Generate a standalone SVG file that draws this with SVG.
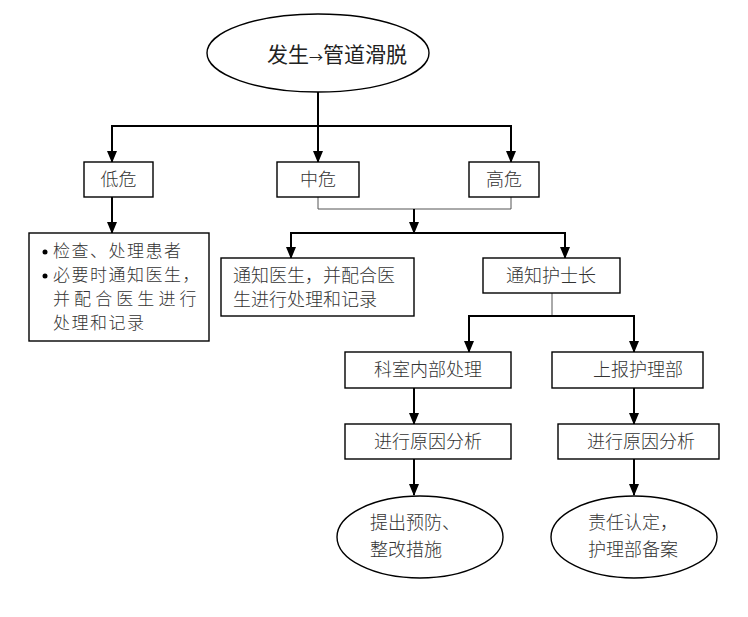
<svg xmlns="http://www.w3.org/2000/svg" width="748" height="617" viewBox="0 0 748 617">
<defs>
<style>
.n{fill:#fff;stroke:#000;stroke-width:1.4}
.t{font-family:"Noto Sans CJK SC","Noto Sans",sans-serif;font-size:18px;fill:#333;font-weight:300}
.s{font-size:17px;letter-spacing:1.5px}
.c{text-anchor:middle}
.k{fill:none;stroke:#000;stroke-width:2}
.th{fill:none;stroke:#555;stroke-width:1}
</style>
<marker id="d" markerUnits="userSpaceOnUse" markerWidth="12" markerHeight="10" refX="11" refY="5" orient="auto" viewBox="0 0 12 10">
<path d="M0,0 L12,5 L0,10 Z" fill="#000"/>
</marker>
</defs>
<rect width="748" height="617" fill="#fff"/>
<g id="connectors">
<path class="k" d="M318,92 V126 M111,126 H512"/>
<path class="k" d="M112,126 V162" marker-end="url(#d)"/>
<path class="k" d="M318,126 V162" marker-end="url(#d)"/>
<path class="k" d="M511,126 V162" marker-end="url(#d)"/>
<path class="k" d="M112,197 V233" marker-end="url(#d)"/>
<path class="th" d="M318,197 V209 H511 V197"/>
<path class="k" d="M414,209 V233" marker-end="url(#d)"/>
<path class="k" d="M290,233 H566"/>
<path class="k" d="M291,233 V258" marker-end="url(#d)"/>
<path class="k" d="M565,233 V258" marker-end="url(#d)"/>
<path class="th" d="M552,293 V316"/>
<path class="k" d="M468,316 H635"/>
<path class="k" d="M469,316 V352" marker-end="url(#d)"/>
<path class="k" d="M634,316 V352" marker-end="url(#d)"/>
<path class="k" d="M414,388 V424" marker-end="url(#d)"/>
<path class="k" d="M634,388 V424" marker-end="url(#d)"/>
<path class="k" d="M414,459 V495" marker-end="url(#d)"/>
<path class="k" d="M634,459 V495" marker-end="url(#d)"/>
</g>
<g id="start">
<ellipse class="n" cx="318" cy="53" rx="111" ry="39"/>
<text class="t" x="267" y="62" style="font-size:21px;fill:#222;font-weight:400">发生<tspan style="font-size:14px">→</tspan>管道滑脱</text>
</g>
<g id="low">
<rect class="n" x="84" y="162" width="69" height="35"/>
<text class="t c" x="118.5" y="186">低危</text>
</g>
<g id="mid">
<rect class="n" x="277" y="162" width="82" height="35"/>
<text class="t c" x="318" y="186">中危</text>
</g>
<g id="high">
<rect class="n" x="469" y="162" width="70" height="35"/>
<text class="t c" x="504" y="186">高危</text>
</g>
<g id="low-action">
<rect class="n" x="29" y="233" width="180" height="108"/>
<circle cx="45" cy="252" r="2.5" fill="#000"/>
<circle cx="45" cy="276" r="2.5" fill="#000"/>
<text class="t s" x="53" y="257">检查、处理患者</text>
<text class="t s" x="53" y="281">必要时通知医生，</text>
<text class="t s" x="53" y="305" textLength="145" lengthAdjust="spacing">并配合医生进行</text>
<text class="t s" x="53" y="329">处理和记录</text>
</g>
<g id="notify-doctor">
<rect class="n" x="221" y="258" width="193" height="58"/>
<text class="t" x="233" y="282">通知医生，并配合医</text>
<text class="t" x="233" y="306">生进行处理和记录</text>
</g>
<g id="notify-head">
<rect class="n" x="483" y="258" width="137" height="35"/>
<text class="t c" x="551" y="282">通知护士长</text>
</g>
<g id="dept">
<rect class="n" x="345" y="352" width="166" height="36"/>
<text class="t c" x="428" y="376">科室内部处理</text>
</g>
<g id="report">
<rect class="n" x="552" y="352" width="151" height="36"/>
<text class="t" x="593" y="376">上报护理部</text>
</g>
<g id="analysis-left">
<rect class="n" x="345" y="424" width="166" height="35"/>
<text class="t c" x="428" y="448">进行原因分析</text>
</g>
<g id="analysis-right">
<rect class="n" x="558" y="424" width="161" height="35"/>
<text class="t c" x="641" y="448">进行原因分析</text>
</g>
<g id="prevent">
<ellipse class="n" cx="420" cy="537" rx="83" ry="41"/>
<text class="t" x="370" y="529">提出预防、</text>
<text class="t" x="370" y="556">整改措施</text>
</g>
<g id="responsibility">
<ellipse class="n" cx="634" cy="537" rx="83" ry="41"/>
<text class="t" x="588" y="529">责任认定，</text>
<text class="t" x="588" y="556">护理部备案</text>
</g>
</svg>
